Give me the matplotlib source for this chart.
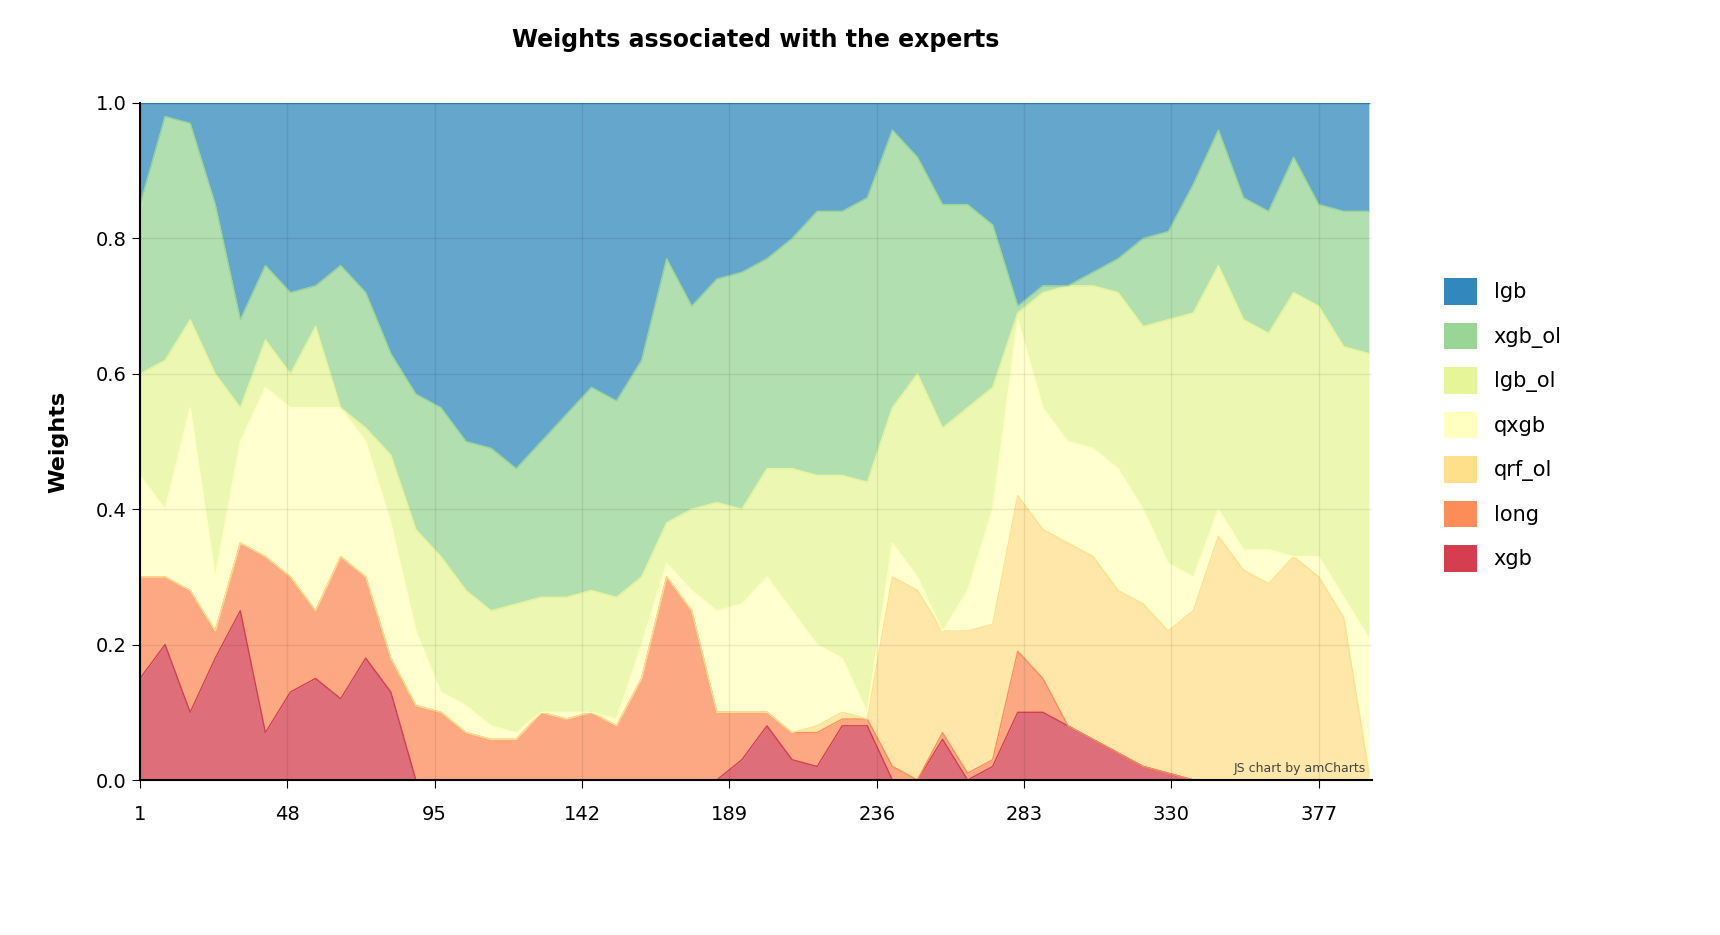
import numpy as np
import matplotlib
matplotlib.use("Agg")
import matplotlib.pyplot as plt
from matplotlib.patches import Patch

steps = np.arange(1, 394, 8)

# cumulative tops of each stacked layer
top_xgb = [0.15, 0.20, 0.10, 0.18, 0.25, 0.07, 0.13, 0.15, 0.12, 0.18,
           0.13, 0.00, 0.00, 0.00, 0.00, 0.00, 0.00, 0.00, 0.00, 0.00,
           0.00, 0.00, 0.00, 0.00, 0.03, 0.08, 0.03, 0.02, 0.08, 0.08,
           0.00, 0.00, 0.06, 0.00, 0.02, 0.10, 0.10, 0.08, 0.06, 0.04,
           0.02, 0.01, 0.00, 0.00, 0.00, 0.00, 0.00, 0.00, 0.00, 0.00]
top_long = [0.30, 0.30, 0.28, 0.22, 0.35, 0.33, 0.30, 0.25, 0.33, 0.30,
            0.18, 0.11, 0.10, 0.07, 0.06, 0.06, 0.10, 0.09, 0.10, 0.08,
            0.15, 0.30, 0.25, 0.10, 0.10, 0.10, 0.07, 0.07, 0.09, 0.09,
            0.02, 0.00, 0.07, 0.01, 0.03, 0.19, 0.15, 0.08, 0.06, 0.04,
            0.02, 0.01, 0.00, 0.00, 0.00, 0.00, 0.00, 0.00, 0.00, 0.00]
top_qrf_ol = [0.30, 0.30, 0.28, 0.22, 0.35, 0.33, 0.30, 0.25, 0.33, 0.30,
              0.18, 0.11, 0.10, 0.07, 0.06, 0.06, 0.10, 0.09, 0.10, 0.08,
              0.15, 0.30, 0.25, 0.10, 0.10, 0.10, 0.07, 0.08, 0.10, 0.09,
              0.30, 0.28, 0.22, 0.22, 0.23, 0.42, 0.37, 0.35, 0.33, 0.28,
              0.26, 0.22, 0.25, 0.36, 0.31, 0.29, 0.33, 0.30, 0.24, 0.01]
top_qxgb = [0.45, 0.40, 0.55, 0.30, 0.50, 0.58, 0.55, 0.55, 0.55, 0.50,
            0.38, 0.22, 0.13, 0.11, 0.08, 0.07, 0.10, 0.10, 0.10, 0.09,
            0.20, 0.32, 0.28, 0.25, 0.26, 0.30, 0.25, 0.20, 0.18, 0.10,
            0.35, 0.30, 0.22, 0.28, 0.40, 0.68, 0.55, 0.50, 0.49, 0.46,
            0.40, 0.32, 0.30, 0.40, 0.34, 0.34, 0.33, 0.33, 0.27, 0.21]
top_lgb_ol = [0.60, 0.62, 0.68, 0.60, 0.55, 0.65, 0.60, 0.67, 0.55, 0.52,
              0.48, 0.37, 0.33, 0.28, 0.25, 0.26, 0.27, 0.27, 0.28, 0.27,
              0.30, 0.38, 0.40, 0.41, 0.40, 0.46, 0.46, 0.45, 0.45, 0.44,
              0.55, 0.60, 0.52, 0.55, 0.58, 0.69, 0.72, 0.73, 0.73, 0.72,
              0.67, 0.68, 0.69, 0.76, 0.68, 0.66, 0.72, 0.70, 0.64, 0.63]
top_xgb_ol = [0.85, 0.98, 0.97, 0.85, 0.68, 0.76, 0.72, 0.73, 0.76, 0.72,
              0.63, 0.57, 0.55, 0.50, 0.49, 0.46, 0.50, 0.54, 0.58, 0.56,
              0.62, 0.77, 0.70, 0.74, 0.75, 0.77, 0.80, 0.84, 0.84, 0.86,
              0.96, 0.92, 0.85, 0.85, 0.82, 0.70, 0.73, 0.73, 0.75, 0.77,
              0.80, 0.81, 0.88, 0.96, 0.86, 0.84, 0.92, 0.85, 0.84, 0.84]
top_lgb = [1.0] * len(steps)

experts = ["xgb", "long", "qrf_ol", "qxgb", "lgb_ol", "xgb_ol", "lgb"]
colors = ["#d53e4f", "#fc8d59", "#fee08b", "#ffffbf", "#e6f598", "#99d594", "#3288bd"]
tops = [top_xgb, top_long, top_qrf_ol, top_qxgb, top_lgb_ol, top_xgb_ol, top_lgb]

fig = plt.figure(figsize=(17.2, 9.35), dpi=100)
ax = fig.add_axes([140 / 1720, 1 - 780 / 935, 1232 / 1720, 677 / 935])

lower = np.zeros(len(steps))
for name, color, top in zip(experts, colors, tops):
    top = np.array(top)
    ax.fill_between(steps, lower, top, color=color, alpha=0.75, linewidth=0)
    ax.plot(steps, top, color=color, linewidth=1)
    lower = top

ax.set_xlim(1, 394)
ax.set_ylim(0, 1)
ax.set_xticks([1, 48, 95, 142, 189, 236, 283, 330, 377])
ax.set_yticks(np.arange(0, 1.01, 0.2))
ax.set_yticklabels([f"{v:.1f}" for v in np.arange(0, 1.01, 0.2)])
ax.tick_params(labelsize=14, length=6)
ax.tick_params(axis="x", pad=12)
ax.grid(True, color="#000000", alpha=0.08, linewidth=1)
ax.set_axisbelow(False)
for side in ("top", "right"):
    ax.spines[side].set_visible(False)
ax.spines["left"].set_linewidth(1.5)
ax.spines["bottom"].set_linewidth(1.5)
ax.set_ylabel("Weights", fontsize=16, fontweight="bold", labelpad=20)
ax.set_title("Weights associated with the experts", fontsize=17, fontweight="bold", pad=40)
ax.text(0.995, 0.008, "JS chart by amCharts", transform=ax.transAxes,
        ha="right", va="bottom", fontsize=9, color="#444444")

handles = [Patch(facecolor=c, label=n) for n, c in zip(experts[::-1], colors[::-1])]
fig.legend(handles=handles, loc="center left", bbox_to_anchor=(1425 / 1720, 1 - 425 / 935),
           frameon=False, fontsize=15, handlelength=1.6, handleheight=1.6, labelspacing=0.85)

fig.savefig("out.png", dpi=100)
